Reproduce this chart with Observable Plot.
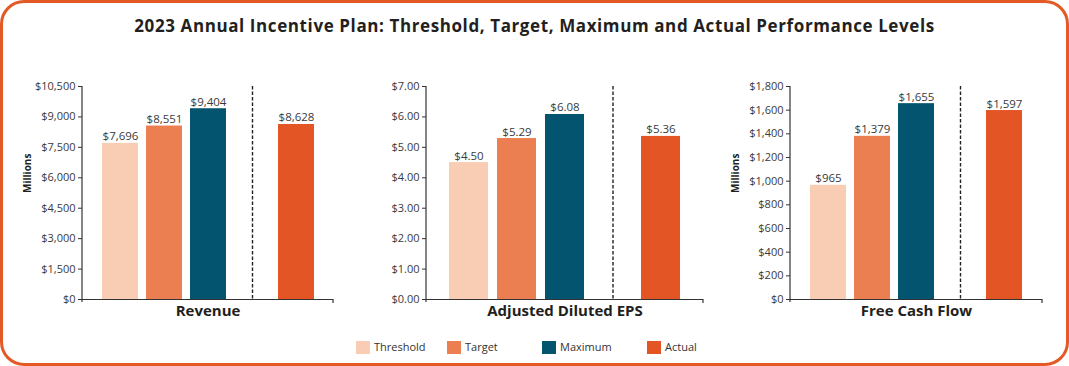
<!DOCTYPE html>
<html><head><meta charset="utf-8">
<script src="https://cdn.jsdelivr.net/npm/d3@7"></script>
<script src="https://cdn.jsdelivr.net/npm/@observablehq/plot@0.6"></script>
<style>
body{margin:0;background:#fff;font-family:"Open Sans",sans-serif;}
#wrap{position:relative;width:1069px;height:366px;overflow:hidden;background:#fff;}
#border{position:absolute;left:0;top:0;width:1063px;height:360px;border:3px solid #e35a27;border-radius:24px;}
#title{position:absolute;left:0;top:14px;width:1069px;text-align:center;font-weight:700;font-size:17px;letter-spacing:0.6px;color:#231f20;}
.panel{position:absolute;top:60px;}
#legend{position:absolute;top:340px;left:356px;display:flex;font-size:11px;color:#333;line-height:14px;}
.item{display:flex;align-items:center;}
.sw{width:14px;height:13px;margin-right:4px;}
</style></head>
<body><div id="wrap"><div id="border"></div>
<div id="title">2023 Annual Incentive Plan: Threshold, Target, Maximum and Actual Performance Levels</div>
<div id="p1" class="panel" style="left:0px"></div>
<div id="p2" class="panel" style="left:345px"></div>
<div id="p3" class="panel" style="left:710px"></div>
<div id="legend"></div>
</div>
<script>
const levels = ["Threshold", "Target", "Maximum", "Actual"];
const colors = ["#f9cdb4", "#ec7f52", "#02546f", "#e45526"];
const metrics = ["Revenue", "Adjusted Diluted EPS", "Free Cash Flow"];
const revenue = [7696, 8551, 9404, 8628];
const eps = [4.50, 5.29, 6.08, 5.36];
const fcf = [965, 1379, 1655, 1597];
const revenueTicks = [0, 1500, 3000, 4500, 6000, 7500, 9000, 10500];
const epsTicks = [0, 1, 2, 3, 4, 5, 6, 7];
const fcfTicks = [0, 200, 400, 600, 800, 1000, 1200, 1400, 1600, 1800];

function panel(el, {values, ticks, fmt, title, millions, width, ml, mr}) {
  const data = levels.map((k, i) => ({level: k, value: values[i]}));
  const domain = ["Threshold", "Target", "Maximum", "sep", "Actual"];
  const axisLines = (index, scales, vals, dims) => {
    const g = d3.create("svg:g").attr("stroke", "#333").attr("stroke-width", 1.2).attr("fill", "none");
    const x0 = dims.marginLeft, x1 = dims.width - dims.marginRight;
    const y0 = dims.marginTop, y1 = dims.height - dims.marginBottom;
    g.append("line").attr("x1", x0).attr("x2", x0).attr("y1", y0).attr("y2", y1 + 3);
    g.append("line").attr("x1", x1).attr("x2", x1).attr("y1", y1).attr("y2", y1 + 4);
    return g.node();
  };
  const p = Plot.plot({
    width, height: 270, marginLeft: ml, marginRight: mr, marginTop: 26, marginBottom: 31,
    style: {fontFamily: "Open Sans", fontSize: "11px", color: "#333", background: "transparent", overflow: "visible"},
    x: {domain, paddingInner: 0.19, paddingOuter: 0.44, axis: null},
    y: {domain: [0, ticks[ticks.length - 1]], axis: null},
    color: {domain: levels, range: colors},
    marks: [
      Plot.barY(data, {x: "level", y: "value", fill: "level"}),
      Plot.ruleX(["sep"], {stroke: "#222", strokeDasharray: "3.5,2", strokeWidth: 1.4}),
      Plot.ruleY([0], {stroke: "#333", strokeWidth: 1.2}),
      axisLines,
      Plot.axisY(ticks, {tickFormat: fmt, tickSize: 4, tickPadding: 3, label: null, fontSize: 11, fill: "#3a3a3a", stroke: "#333"}),
      Plot.text(data, {x: "level", y: "value", text: d => fmt(d.value), lineAnchor: "bottom", dy: -3, fill: "#3a3a3a", fontSize: 11.5}),
      Plot.text([title], {frameAnchor: "bottom", dy: 16, fontWeight: "bold", fontSize: 15, fill: "#231f20"}),
      millions ? Plot.text(["Millions"], {frameAnchor: "left", dx: -55, rotate: -90, fontWeight: "bold", fontSize: 10, fill: "#231f20"}) : null
    ]
  });
  document.getElementById(el).appendChild(p);
}

panel("p1", {values: revenue, ticks: revenueTicks, fmt: d3.format("$,"), title: metrics[0], millions: true, width: 345, ml: 82, mr: 12});
panel("p2", {values: eps, ticks: epsTicks, fmt: d3.format("$.2f"), title: metrics[1], millions: false, width: 365, ml: 81, mr: 7});
panel("p3", {values: fcf, ticks: fcfTicks, fmt: d3.format("$,"), title: metrics[2], millions: true, width: 359, ml: 80, mr: 27});

const itemWidths = [91, 95, 105, 80];
const legend = document.getElementById("legend");
levels.forEach((k, i) => {
  const it = document.createElement("div");
  it.className = "item";
  it.style.width = itemWidths[i] + "px";
  const sw = document.createElement("div");
  sw.className = "sw";
  sw.style.background = colors[i];
  const t = document.createElement("span");
  t.textContent = k;
  it.appendChild(sw); it.appendChild(t);
  legend.appendChild(it);
});
</script>
</body></html>
